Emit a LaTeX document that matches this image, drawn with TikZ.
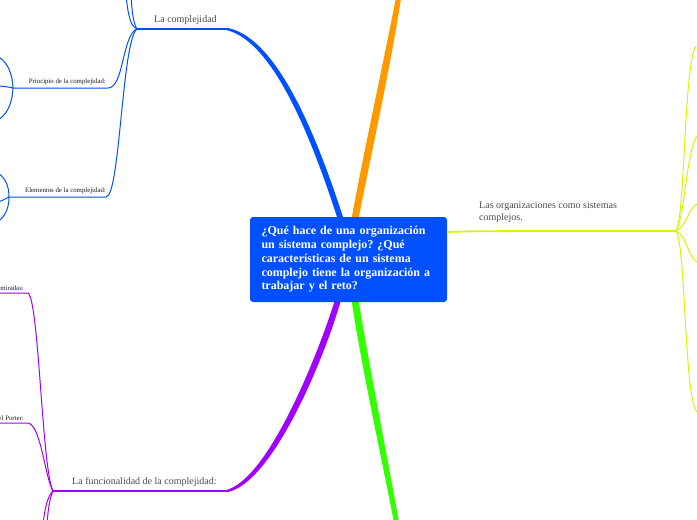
\documentclass[tikz,border=0pt]{standalone}
\usepackage{fontspec}
\setmainfont{Liberation Serif}
\usetikzlibrary{calc}
\frenchspacing

\definecolor{mapblue}{HTML}{0050FF}
\definecolor{maporange}{HTML}{FF9900}
\definecolor{mapgreen}{HTML}{33FF00}
\definecolor{mappurple}{HTML}{A000FF}
\definecolor{mapyellow}{HTML}{D8F500}
\definecolor{labelgray}{HTML}{4A4A4A}

\begin{document}
\begin{tikzpicture}[
  x=1pt, y=-1pt,
  root/.style={fill=mapblue, rounded corners=3pt, text=white, align=left, font=\fontsize{12}{13.75}\selectfont\bfseries, text width=174pt, minimum height=85pt, inner xsep=11.5pt, inner ysep=6pt},
  topic/.style={text=labelgray, align=left, inner sep=1pt, font=\fontsize{10}{11.5}\selectfont},
  sub/.style={text=black!90, inner sep=1pt, font=\fontsize{6.8}{8}\selectfont},
  twig/.style={line width=1pt, line cap=round},
  limb/.style={line width=1.8pt, line cap=round}
]
\useasboundingbox (0,0) rectangle (697,520);
\clip (0,0) rectangle (697,520);

% hubs and loose ends
\coordinate (bluehub) at (137,29);
\coordinate (bluebend) at (227,29);
\coordinate (prinhub) at (13,88);
\coordinate (elemhub) at (9,197);
\coordinate (purphub) at (53,491);
\coordinate (purpbend) at (227,491);
\coordinate (yelhub) at (676,231);

% main limbs (tapered)
\fill[mapblue] (337,217) .. controls (312,140) and (274,42) .. ($(bluebend)+(0,1.2)$)
  -- ($(bluebend)+(0,-1.2)$) .. controls (278,37) and (318,140) .. (343,217) -- cycle;
\fill[maporange] (351.5,219) .. controls (364,150) and (384,60) .. (396.5,-5)
  -- (401.5,-5) .. controls (392,60) and (372,150) .. (358.5,219) -- cycle;
\fill[mapgreen] (351.5,300) .. controls (362,370) and (382,460) .. (394.5,525)
  -- (399.5,525) .. controls (388,460) and (370,370) .. (358.5,300) -- cycle;
\fill[mappurple] (335,300) .. controls (316,360) and (268,478) .. ($(purpbend)+(0,-1.2)$)
  -- ($(purpbend)+(0,1.2)$) .. controls (272,484) and (324,360) .. (341,300) -- cycle;

\node[root] (q) at (348.5,259.5) {¿Qué hace de una organización\\un sistema complejo? ¿Qué\\características de un sistema\\complejo tiene la organización a\\trabajar y el reto?};

% blue side
\draw[mapblue, limb] (bluebend) -- (bluehub);
\draw[mapblue, line width=2.6pt] ($(bluehub)+(2,0)$) -- ($(bluehub)+(11,0)$);
\node[topic, anchor=south west] (complejidad) at (153,26) {La complejidad};
\draw[mapblue, twig] (bluehub) .. controls (130,26) and (128,14) .. (126,-5);
\draw[mapblue, twig] (bluehub) .. controls (134,25) and (132,14) .. (131,-5);
\draw[mapblue, twig] (bluehub) .. controls (122,35) and (124,88) .. (108,88) -- (prinhub);
\draw[mapblue, twig] (bluehub) .. controls (122,40) and (120,197) .. (106,197) -- (elemhub);
\node[sub, anchor=south east] (principio) at (107,86.5) {Principio de la complejidad:};
\node[sub, anchor=south east] (elementos) at (107,195.5) {Elementos de la complejidad:};
\draw[mapblue, twig] (prinhub) .. controls (12,70) and (6,60) .. (-5,55);
\draw[mapblue, twig] (prinhub) .. controls (12,106) and (6,116) .. (-5,122);
\draw[mapblue, twig] (prinhub) .. controls (8,87) and (4,86) .. (-5,86);
\draw[mapblue, twig] (elemhub) .. controls (9,184) and (4,176) .. (-5,171);
\draw[mapblue, twig] (elemhub) .. controls (9,210) and (4,218) .. (-5,224);
\draw[mapblue, twig] (elemhub) .. controls (5,199) and (2,201) .. (-5,203);

% purple side
\draw[mappurple, limb] (purpbend) -- (purphub);
\draw[mappurple, line width=2.6pt] ($(purphub)+(2,0)$) -- ($(purphub)+(12,0)$);
\node[topic, anchor=south west] (funcionalidad) at (71,488) {La funcionalidad de la complejidad:};
\draw[mappurple, twig] (purphub) .. controls (42,470) and (39,300) .. (28,293) -- (-5,293);
\draw[mappurple, twig] (purphub) .. controls (45,478) and (41,425) .. (28,423) -- (-5,423);
\draw[mappurple, twig] (purphub) .. controls (48,496) and (45,506) .. (43,525);
\draw[mappurple, twig] (purphub) .. controls (50,498) and (48,508) .. (47,525);
\node[sub, anchor=south east] (miradas) at (25,291.5) {miradas:};
\node[sub, anchor=south east] (porter) at (25,421.5) {el Porter:};

% yellow side
\draw[mapyellow, limb] (q.east |- 0,232) .. controls (470,231) and (500,231) .. (yelhub);
\draw[mapyellow, line width=2.6pt] ($(yelhub)+(-16,0)$) -- ($(yelhub)+(-2,0)$);
\node[topic, anchor=north west] (organizaciones) at (478,201) {Las organizaciones como sistemas\\complejos.};
\draw[mapyellow, twig] (yelhub) .. controls (685,218) and (684,62) .. (696,46);
\draw[mapyellow, twig] (yelhub) .. controls (686,214) and (686,142) .. (700,133);
\draw[mapyellow, twig] (yelhub) .. controls (688,226) and (688,205) .. (700,203);
\draw[mapyellow, twig] (yelhub) .. controls (688,236) and (688,262) .. (700,263);
\draw[mapyellow, twig] (yelhub) .. controls (686,246) and (684,398) .. (697,412);
\end{tikzpicture}
\end{document}
